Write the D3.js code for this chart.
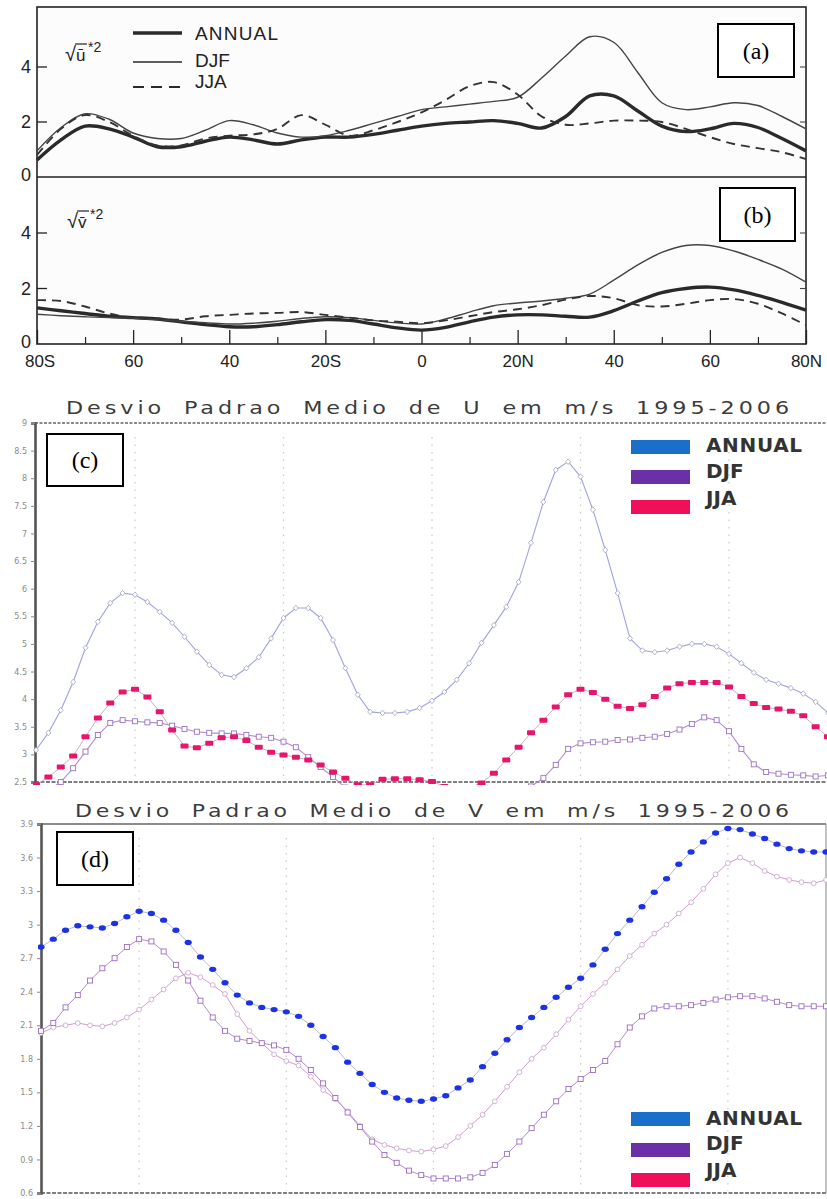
<!DOCTYPE html>
<html>
<head>
<meta charset="utf-8">
<script src="https://cdn.jsdelivr.net/npm/d3@7"></script>
<style>
  body { margin: 0; background: #fff; }
  svg { display: block; }
</style>
</head>
<body>
<div id="chart"></div>
<script>
// ---------- data: panels (a) and (b), 5 degree latitude ----------
const latsAB = [-80,-75,-70,-65,-60,-55,-50,-45,-40,-35,-30,-25,-20,-15,-10,-5,0,5,10,15,20,25,30,35,40,45,50,55,60,65,70,75,80];

const uAnnual = [0.62,1.35,1.85,1.75,1.45,1.1,1.1,1.3,1.45,1.35,1.2,1.35,1.45,1.45,1.55,1.7,1.85,1.95,2.0,2.05,1.95,1.78,2.2,2.95,2.95,2.4,1.85,1.65,1.75,1.95,1.8,1.4,0.95];
const uDJF    = [0.95,1.8,2.3,2.1,1.6,1.4,1.4,1.7,2.05,1.9,1.6,1.45,1.5,1.7,1.95,2.2,2.45,2.55,2.65,2.75,2.9,3.6,4.4,5.1,4.9,3.8,2.7,2.45,2.55,2.7,2.6,2.2,1.75];
const uJJA    = [0.8,1.75,2.25,2.0,1.5,1.15,1.15,1.4,1.5,1.55,1.75,2.25,1.9,1.5,1.7,2.0,2.35,2.8,3.3,3.45,3.0,2.2,1.9,1.95,2.05,2.05,2.0,1.75,1.45,1.2,1.05,0.9,0.65];

const vAnnual = [1.3,1.2,1.1,1.0,0.95,0.9,0.8,0.7,0.62,0.62,0.7,0.8,0.88,0.85,0.72,0.58,0.5,0.6,0.8,0.97,1.05,1.05,1.0,0.97,1.2,1.55,1.85,2.0,2.05,1.95,1.75,1.5,1.22];
const vDJF    = [1.07,1.02,0.98,0.95,0.93,0.88,0.82,0.77,0.72,0.75,0.82,0.92,0.98,0.95,0.85,0.76,0.72,0.9,1.15,1.38,1.48,1.55,1.65,1.8,2.3,2.85,3.3,3.55,3.55,3.35,3.05,2.7,2.23];
const vJJA    = [1.58,1.55,1.35,1.1,0.95,0.92,0.88,1.0,1.05,1.1,1.12,1.15,1.05,0.95,0.85,0.8,0.75,0.85,1.0,1.15,1.25,1.4,1.6,1.73,1.65,1.4,1.35,1.45,1.58,1.62,1.45,1.1,0.68];

const abYTicks = [0, 2, 4];
const abXTickLats = [-80,-60,-40,-20,0,20,40,60,80];
const abXTickLabels = ["80S","60","40","20S","0","20N","40","60","80N"];
const abXMinorLats = [-70,-50,-30,-10,10,30,50,70];

// ---------- data: panels (c) and (d), 2.5 degree latitude ----------
const latsCD = [-80,-77.5,-75,-72.5,-70,-67.5,-65,-62.5,-60,-57.5,-55,-52.5,-50,-47.5,-45,-42.5,
  -40,-37.5,-35,-32.5,-30,-27.5,-25,-22.5,-20,-17.5,-15,-12.5,-10,-7.5,-5,-2.5,
  0,2.5,5,7.5,10,12.5,15,17.5,20,22.5,25,27.5,30,32.5,35,37.5,
  40,42.5,45,47.5,50,52.5,55,57.5,60,62.5,65,67.5,70,72.5,75,77.5,80];

const cTop = [3.08,3.39,3.8,4.31,4.93,5.4,5.74,5.92,5.89,5.76,5.58,5.38,5.13,4.86,4.62,4.44,
  4.4,4.56,4.76,5.1,5.47,5.65,5.65,5.47,5.07,4.56,4.08,3.77,3.75,3.75,3.77,3.84,
  3.97,4.13,4.35,4.65,5.02,5.34,5.67,6.12,6.83,7.57,8.15,8.3,8.03,7.43,6.7,5.92,
  5.1,4.88,4.85,4.88,4.95,5.0,5.0,4.95,4.82,4.65,4.48,4.35,4.28,4.2,4.1,3.95,3.75];
const cPink = [2.45,2.59,2.77,2.97,3.32,3.66,3.93,4.13,4.18,4.04,3.77,3.44,3.15,3.12,3.2,3.3,
  3.32,3.25,3.13,3.04,2.99,2.95,2.9,2.81,2.68,2.57,2.45,2.45,2.55,2.56,2.56,2.54,
  2.51,2.42,2.38,2.4,2.48,2.66,2.9,3.13,3.39,3.62,3.86,4.08,4.18,4.12,4.0,3.87,
  3.83,3.9,4.05,4.2,4.28,4.3,4.3,4.3,4.22,4.05,3.92,3.85,3.82,3.78,3.7,3.5,3.32];
const cPurple = [2.2,2.35,2.5,2.75,3.05,3.35,3.57,3.62,3.6,3.58,3.57,3.52,3.46,3.41,3.39,3.38,
  3.38,3.35,3.32,3.3,3.23,3.13,2.95,2.77,2.59,2.4,2.3,2.2,2.15,2.1,2.1,2.1,
  2.1,2.1,2.12,2.15,2.2,2.25,2.3,2.35,2.42,2.57,2.81,3.1,3.2,3.22,3.23,3.26,
  3.27,3.3,3.32,3.37,3.45,3.55,3.67,3.62,3.42,3.1,2.82,2.68,2.65,2.63,2.62,2.6,2.62];

const dBlue = [2.8,2.87,2.95,2.99,2.98,2.97,3.01,3.07,3.12,3.1,3.04,2.95,2.84,2.71,2.6,2.48,
  2.37,2.3,2.26,2.24,2.22,2.18,2.1,2.0,1.9,1.77,1.67,1.57,1.5,1.45,1.43,1.42,
  1.44,1.47,1.54,1.61,1.73,1.85,1.97,2.08,2.17,2.26,2.35,2.44,2.52,2.64,2.78,2.92,
  3.04,3.16,3.29,3.41,3.54,3.65,3.74,3.82,3.86,3.85,3.81,3.77,3.72,3.68,3.66,3.65,3.65];
const dSquares = [2.05,2.12,2.26,2.37,2.5,2.61,2.7,2.8,2.87,2.85,2.76,2.64,2.5,2.32,2.17,2.05,
  1.98,1.96,1.94,1.92,1.88,1.8,1.7,1.58,1.45,1.32,1.19,1.06,0.94,0.87,0.8,0.76,
  0.73,0.73,0.73,0.74,0.78,0.85,0.95,1.06,1.18,1.3,1.42,1.53,1.62,1.7,1.78,1.93,
  2.08,2.18,2.25,2.27,2.27,2.28,2.3,2.33,2.35,2.36,2.36,2.34,2.31,2.28,2.27,2.27,2.27];
const dCircles = [2.03,2.08,2.1,2.12,2.1,2.09,2.12,2.17,2.24,2.33,2.42,2.52,2.57,2.53,2.46,2.38,
  2.2,2.05,1.94,1.84,1.78,1.74,1.64,1.52,1.44,1.33,1.2,1.08,1.03,1.0,0.98,0.97,
  0.99,1.02,1.1,1.2,1.3,1.42,1.55,1.68,1.8,1.9,2.02,2.15,2.27,2.38,2.48,2.6,
  2.72,2.82,2.92,3.0,3.1,3.2,3.32,3.45,3.55,3.6,3.55,3.48,3.43,3.4,3.38,3.37,3.4];

const cYTicks = [2.5,3,3.5,4,4.5,5,5.5,6,6.5,7,7.5,8,8.5,9];
const cYLabels = ["2.5","3","3.5","4","4.5","5","5.5","6","6.5","7","7.5","8","8.5","9"];
const dYTicks = [0.6,0.9,1.2,1.5,1.8,2.1,2.4,2.7,3,3.3,3.6,3.9];
const dYLabels = ["0.6","0.9","1.2","1.5","1.8","2.1","2.4","2.7","3","3.3","3.6","3.9"];
const gridLats = [-60,-30,0,30,60];

const legendNames = ["ANNUAL","DJF","JJA"];
const legendColors = ["#1a6fc8","#6b2fa8","#f0105a"];

// ---------- drawing ----------
const W = 827, H = 1199;
const svg = d3.select("#chart").append("svg")
    .attr("width", W)
    .attr("height", H)
    .style("background", "#fff");

const scanFont = "'Liberation Sans', Arial, sans-serif";
const serif = "'Liberation Serif', 'Times New Roman', serif";
const gradsFont = "'DejaVu Sans', Verdana, sans-serif";

// ===== panels (a) and (b) =====
const xAB = d3.scaleLinear().domain([-80, 80]).range([37, 806]);
const yA = d3.scaleLinear().domain([0, 4]).range([177, 67]);
const yB = d3.scaleLinear().domain([0, 4]).range([344, 233]);

const ab = svg.append("g");

ab.append("rect")
    .attr("x", 37).attr("y", 7)
    .attr("width", 769).attr("height", 337)
    .attr("fill", "#fcfcfc")
    .attr("stroke", "#222").attr("stroke-width", 1.6);
ab.append("line")
    .attr("x1", 37).attr("x2", 806).attr("y1", 177).attr("y2", 177)
    .attr("stroke", "#222").attr("stroke-width", 1.6);

// y ticks, both panels, both sides
[yA, yB].forEach(ys => {
    abYTicks.filter(d => d > 0).forEach(t => {
        ab.append("line").attr("x1", 37).attr("x2", 47)
            .attr("y1", ys(t)).attr("y2", ys(t)).attr("stroke", "#222").attr("stroke-width", 1.3);
        ab.append("line").attr("x1", 800).attr("x2", 806)
            .attr("y1", ys(t)).attr("y2", ys(t)).attr("stroke", "#444").attr("stroke-width", 1.1);
    });
    ab.selectAll(null)
        .data(abYTicks)
        .enter().append("text")
        .attr("x", 31)
        .attr("y", d => ys(d))
        .attr("dy", d => d === 0 ? "0.2em" : "0.36em")
        .attr("text-anchor", "end")
        .style("font-family", scanFont)
        .style("font-size", "18px")
        .style("fill", "#222")
        .text(d => d);
});

// x axis at the bottom of (b)
const xAxisMajor = d3.axisBottom(xAB)
    .tickValues(abXTickLats)
    .tickFormat((d, i) => abXTickLabels[i])
    .tickSize(-14)
    .tickPadding(11);
const gx = ab.append("g").attr("transform", "translate(0,344)").call(xAxisMajor);
gx.select(".domain").remove();
gx.selectAll("line").attr("stroke", "#222").attr("stroke-width", 1.3);
gx.selectAll("text")
    .style("font-family", scanFont)
    .style("font-size", "17px")
    .style("fill", "#222");
gx.selectAll(".tick").filter(d => d === -80).select("text").attr("dx", "0.15em");

const gxMinor = ab.append("g").attr("transform", "translate(0,344)")
    .call(d3.axisBottom(xAB).tickValues(abXMinorLats).tickSize(-7).tickFormat(""));
gxMinor.select(".domain").remove();
gxMinor.selectAll("line").attr("stroke", "#222").attr("stroke-width", 1.2);

// curves
const abSeries = [
    { panel: "a", vals: uAnnual, w: 3.4, dash: null, col: "#2a2a2a" },
    { panel: "a", vals: uDJF,    w: 1.4, dash: null, col: "#444" },
    { panel: "a", vals: uJJA,    w: 1.9, dash: "9,6", col: "#333" },
    { panel: "b", vals: vAnnual, w: 3.4, dash: null, col: "#2a2a2a" },
    { panel: "b", vals: vDJF,    w: 1.4, dash: null, col: "#444" },
    { panel: "b", vals: vJJA,    w: 1.9, dash: "9,6", col: "#333" }
];
abSeries.forEach(s => {
    const ys = s.panel === "a" ? yA : yB;
    const line = d3.line()
        .x((d, i) => xAB(latsAB[i]))
        .y(d => ys(d))
        .curve(d3.curveCatmullRom.alpha(0.5));
    ab.append("path")
        .datum(s.vals)
        .attr("d", line)
        .attr("fill", "none")
        .attr("stroke", s.col)
        .attr("stroke-width", s.w)
        .attr("stroke-dasharray", s.dash)
        .attr("stroke-linejoin", "round");
});

// legend of (a)
const abLegend = [
    { name: "ANNUAL", y: 33, ty: 40, w: 3.6, dash: null },
    { name: "DJF",    y: 62, ty: 67, w: 1.4, dash: null },
    { name: "JJA",    y: 87, ty: 88, w: 2,   dash: "11,7" }
];
abLegend.forEach(l => {
    ab.append("line").attr("x1", 133).attr("x2", 182).attr("y1", l.y).attr("y2", l.y)
        .attr("stroke", "#2a2a2a").attr("stroke-width", l.w).attr("stroke-dasharray", l.dash);
    ab.append("text").attr("x", 195).attr("y", l.ty)
        .style("font-family", scanFont).style("font-size", "19px").style("fill", "#222")
        .attr("textLength", l.name === "ANNUAL" ? 83 : null)
        .text(l.name);
});

// sqrt labels
function rootLabel(x, y, letter) {
    const g = ab.append("g");
    g.append("text").attr("x", x).attr("y", y)
        .style("font-family", scanFont).style("font-size", "20px").style("fill", "#222")
        .text("\u221A");
    g.append("line").attr("x1", x + 10).attr("x2", x + 22).attr("y1", y - 17).attr("y2", y - 17)
        .attr("stroke", "#222").attr("stroke-width", 1.2);
    g.append("text").attr("x", x + 11).attr("y", y)
        .style("font-family", scanFont).style("font-size", "17px").style("fill", "#222")
        .text(letter + "\u0304");
    g.append("text").attr("x", x + 23).attr("y", y - 9)
        .style("font-family", scanFont).style("font-size", "14px").style("fill", "#222")
        .text("*2");
}
rootLabel(65, 61, "u");
rootLabel(67, 228, "v");

// ===== panels (c) and (d) : GrADS style =====
const xC = d3.scaleLinear().domain([-80, 80]).range([36, 828]);
const yC = d3.scaleLinear().domain([2.5, 9]).range([782, 423]);
const xD = d3.scaleLinear().domain([-80, 80]).range([41, 826]);
const yD = d3.scaleLinear().domain([0.6, 3.9]).range([1193, 824]);

const defs = svg.append("defs");
defs.append("clipPath").attr("id", "clipC").append("rect")
    .attr("x", 33).attr("y", 421).attr("width", 800).attr("height", 364);
defs.append("clipPath").attr("id", "clipD").append("rect")
    .attr("x", 38).attr("y", 822).attr("width", 792).attr("height", 374);

function gradsFrame(xs, ys, yTicks, yLabels, top, bottom, left, right, title, titleX, titleY, dashedTop) {
    const g = svg.append("g");
    // title
    g.append("text")
        .attr("x", titleX).attr("y", titleY)
        .attr("textLength", 793 - titleX)
        .attr("lengthAdjust", "spacingAndGlyphs")
        .style("font-family", gradsFont)
        .style("font-size", "17px")
        .style("letter-spacing", "3px")
        .style("word-spacing", "6px")
        .style("fill", "#3c3c3c")
        .text(title);
    // vertical dotted grid
    g.selectAll(null).data(gridLats).enter().append("line")
        .attr("x1", d => xs(d)).attr("x2", d => xs(d))
        .attr("y1", top + 14).attr("y2", bottom - 2)
        .attr("stroke", "#c9c9c9").attr("stroke-width", 1.2)
        .attr("stroke-dasharray", "1.5,6");
    // top and bottom borders
    g.append("line").attr("x1", left).attr("x2", right).attr("y1", top).attr("y2", top)
        .attr("stroke", "#666").attr("stroke-width", 1.4)
        .attr("stroke-dasharray", dashedTop ? "3,1.5" : null);
    g.append("line").attr("x1", left).attr("x2", right).attr("y1", bottom).attr("y2", bottom)
        .attr("stroke", "#555").attr("stroke-width", 1.6)
        .attr("stroke-dasharray", "4,1.5");
    if (right < W) {
        g.append("line").attr("x1", right).attr("x2", right).attr("y1", top).attr("y2", bottom)
            .attr("stroke", "#999").attr("stroke-width", 1.2);
    }
    // left axis
    const axis = d3.axisLeft(ys)
        .tickValues(yTicks)
        .tickFormat((d, i) => yLabels[i])
        .tickSize(4)
        .tickPadding(4);
    const ga = g.append("g").attr("transform", `translate(${left},0)`).call(axis);
    ga.select(".domain").attr("stroke", "#555").attr("stroke-width", 2.6);
    ga.selectAll(".tick line").attr("stroke", "#888");
    ga.selectAll("text")
        .style("font-family", gradsFont)
        .style("font-size", "8px")
        .style("fill", "#8a8a8a");
    return g;
}

gradsFrame(xC, yC, cYTicks, cYLabels, 423, 782, 35, 828,
    "Desvio Padrao Medio de U em m/s 1995-2006", 66, 414, true);
gradsFrame(xD, yD, dYTicks, dYLabels, 824, 1193, 41, 826,
    "Desvio Padrao Medio de V em m/s 1995-2006", 75, 817, false);

function seriesLine(clip, xs, ys, vals, col, w) {
    const line = d3.line().x((d, i) => xs(latsCD[i])).y(d => ys(d));
    svg.append("path")
        .datum(vals)
        .attr("clip-path", `url(#${clip})`)
        .attr("d", line)
        .attr("fill", "none")
        .attr("stroke", col)
        .attr("stroke-width", w);
}
function markers(clip, xs, ys, vals, kind, col) {
    const g = svg.append("g").attr("clip-path", `url(#${clip})`);
    const pts = vals.map((v, i) => ({ lat: latsCD[i], v }));
    const sel = g.selectAll(null).data(pts).enter();
    if (kind === "bar") {
        sel.append("rect")
            .attr("x", d => xs(d.lat) - 4).attr("y", d => ys(d.v) - 2.5)
            .attr("width", 8).attr("height", 5).attr("rx", 1)
            .attr("fill", col);
    } else if (kind === "dot") {
        sel.append("ellipse")
            .attr("cx", d => xs(d.lat)).attr("cy", d => ys(d.v))
            .attr("rx", 3.6).attr("ry", 2.7)
            .attr("fill", col);
    } else if (kind === "square") {
        sel.append("rect")
            .attr("x", d => xs(d.lat) - 2.5).attr("y", d => ys(d.v) - 2.5)
            .attr("width", 5).attr("height", 5)
            .attr("fill", "#fff").attr("stroke", col).attr("stroke-width", 0.9);
    } else if (kind === "diamond") {
        sel.append("path")
            .attr("d", d => {
                const x = xs(d.lat), y = ys(d.v);
                return `M${x},${y - 2.8}L${x + 2.5},${y}L${x},${y + 2.8}L${x - 2.5},${y}Z`;
            })
            .attr("fill", "#fff").attr("stroke", col).attr("stroke-width", 0.8);
    } else {
        sel.append("circle")
            .attr("cx", d => xs(d.lat)).attr("cy", d => ys(d.v)).attr("r", 2.4)
            .attr("fill", "#fff").attr("stroke", col).attr("stroke-width", 0.8);
    }
}

// (c)
seriesLine("clipC", xC, yC, cTop, "#9ea3e6", 1.1);
markers("clipC", xC, yC, cTop, "diamond", "#a3a3b8");
seriesLine("clipC", xC, yC, cPurple, "#b48ad6", 1.1);
markers("clipC", xC, yC, cPurple, "square", "#9a72c4");
seriesLine("clipC", xC, yC, cPink, "#c4b4be", 1);
markers("clipC", xC, yC, cPink, "bar", "#e8156c");

// (d)
seriesLine("clipD", xD, yD, dCircles, "#d59ad0", 1);
markers("clipD", xD, yD, dCircles, "circle", "#c7a3cc");
seriesLine("clipD", xD, yD, dSquares, "#b48ad0", 1);
markers("clipD", xD, yD, dSquares, "square", "#9c6cc2");
seriesLine("clipD", xD, yD, dBlue, "#b9b9c9", 1);
markers("clipD", xD, yD, dBlue, "dot", "#1c32e6");

// GrADS legends
function gradsLegend(rectTops, textBaselines) {
    const g = svg.append("g");
    legendNames.forEach((name, i) => {
        g.append("rect")
            .attr("x", 631).attr("y", rectTops[i])
            .attr("width", 59).attr("height", 14)
            .attr("fill", legendColors[i]);
        g.append("text")
            .attr("x", 706).attr("y", textBaselines[i])
            .attr("textLength", name === "ANNUAL" ? 96 : null)
            .style("font-family", gradsFont)
            .style("font-size", "20px")
            .style("font-weight", "bold")
            .style("fill", "#333")
            .text(name);
    });
}
gradsLegend([440, 470, 500], [452, 478, 505]);
gradsLegend([1112, 1143, 1173], [1125, 1150, 1177]);

// panel letter boxes
const panelBoxes = [
    { label: "(a)", x: 718, y: 24,  w: 76, h: 53 },
    { label: "(b)", x: 720, y: 188, w: 75, h: 53 },
    { label: "(c)", x: 47,  y: 434, w: 76, h: 52 },
    { label: "(d)", x: 57,  y: 832, w: 76, h: 53 }
];
panelBoxes.forEach(b => {
    svg.append("rect")
        .attr("x", b.x).attr("y", b.y).attr("width", b.w).attr("height", b.h)
        .attr("fill", "#fff").attr("stroke", "#000").attr("stroke-width", 2);
    svg.append("text")
        .attr("x", b.x + b.w / 2).attr("y", b.y + b.h / 2)
        .attr("dy", "0.35em")
        .attr("text-anchor", "middle")
        .style("font-family", serif)
        .style("font-size", "24px")
        .style("fill", "#000")
        .text(b.label);
});
</script>
</body>
</html>
